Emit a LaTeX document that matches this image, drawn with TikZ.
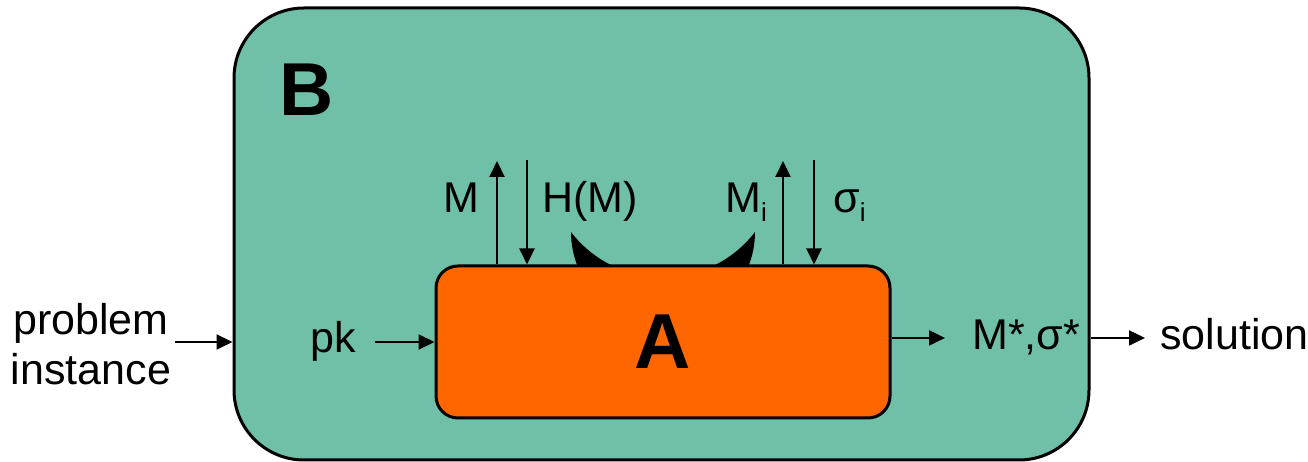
\documentclass[tikz,border=0pt]{standalone}
\usepackage{fontspec}
\setmainfont{Liberation Sans}
\usetikzlibrary{arrows.meta}
\definecolor{teal1}{HTML}{70BFA8}
\definecolor{orange1}{HTML}{FF6600}
\newcommand{\subi}{\raisebox{-9pt}{\fontsize{26}{26}\selectfont i}}
\begin{document}
\begin{tikzpicture}[x=1pt,y=1pt,
  lbl/.style={font=\fontsize{43}{50}\selectfont, inner sep=0pt},
  arr/.style={line width=2pt, -{Triangle[length=16pt,width=15pt]}},
  boxB/.style={draw, line width=3pt, fill=teal1, rounded corners=70pt, inner sep=0pt},
  boxA/.style={draw, line width=3pt, fill=orange1, rounded corners=22pt, inner sep=0pt,
    font=\fontsize{78}{80}\selectfont\bfseries}]
\useasboundingbox (0,0) rectangle (1308,462);
% outer box B
\node[boxB, minimum width=855pt, minimum height=452pt] (B) at (661.5,228) {};
\node[anchor=base west, inner sep=0pt, font=\fontsize{75}{75}\selectfont\bfseries] (Blbl) at (279,346) {B};
% crescent
\fill[black] (571,230) arc[start angle=180, end angle=360, radius=92]
  arc[start angle=322.5, end angle=217.5, radius=116] -- cycle;
% inner box A
\node[boxA, minimum width=454pt, minimum height=152pt] (A) at (663,120) {A};
% top arrows
\coordinate (mtop) at (497,301);
\coordinate (htop) at (527,302);
\coordinate (mitop) at (783,301);
\coordinate (stop) at (814,302);
\draw[arr] (A.north -| mtop) -- (mtop);
\draw[arr] (htop) -- (A.north -| htop);
\draw[arr] (A.north -| mitop) -- (mitop);
\draw[arr] (stop) -- (A.north -| stop);
\node[lbl, anchor=base west] (mlbl) at (443,249) {M};
\node[lbl, anchor=base west] (hlbl) at (542,249) {H(M)};
\node[lbl, anchor=base west] (milbl) at (725,249) {M\subi};
\node[lbl, anchor=base west] (slbl) at (833,249) {σ\subi};
% left
\node[lbl, align=center, anchor=center] (prob) at (91,118) {problem\\instance};
\draw[arr] ([xshift=4pt]prob.east |- 0,120) -- (B.west |- 0,120);
\node[lbl, anchor=base west] (pk) at (310,109) {pk};
\draw[arr] ([xshift=19pt]pk.east |- A.west) -- (A.west);
% right
\node[lbl, anchor=base west] (ms) at (972,112) {M*,σ*};
\node[lbl, anchor=base west] (sol) at (1160,112) {solution};
\draw[arr] (A.east |- ms.west) -- ([xshift=-27pt]ms.west);
\draw[arr] (B.east |- ms.west) -- ([xshift=-15pt]sol.west |- ms.west);
\end{tikzpicture}
\end{document}
